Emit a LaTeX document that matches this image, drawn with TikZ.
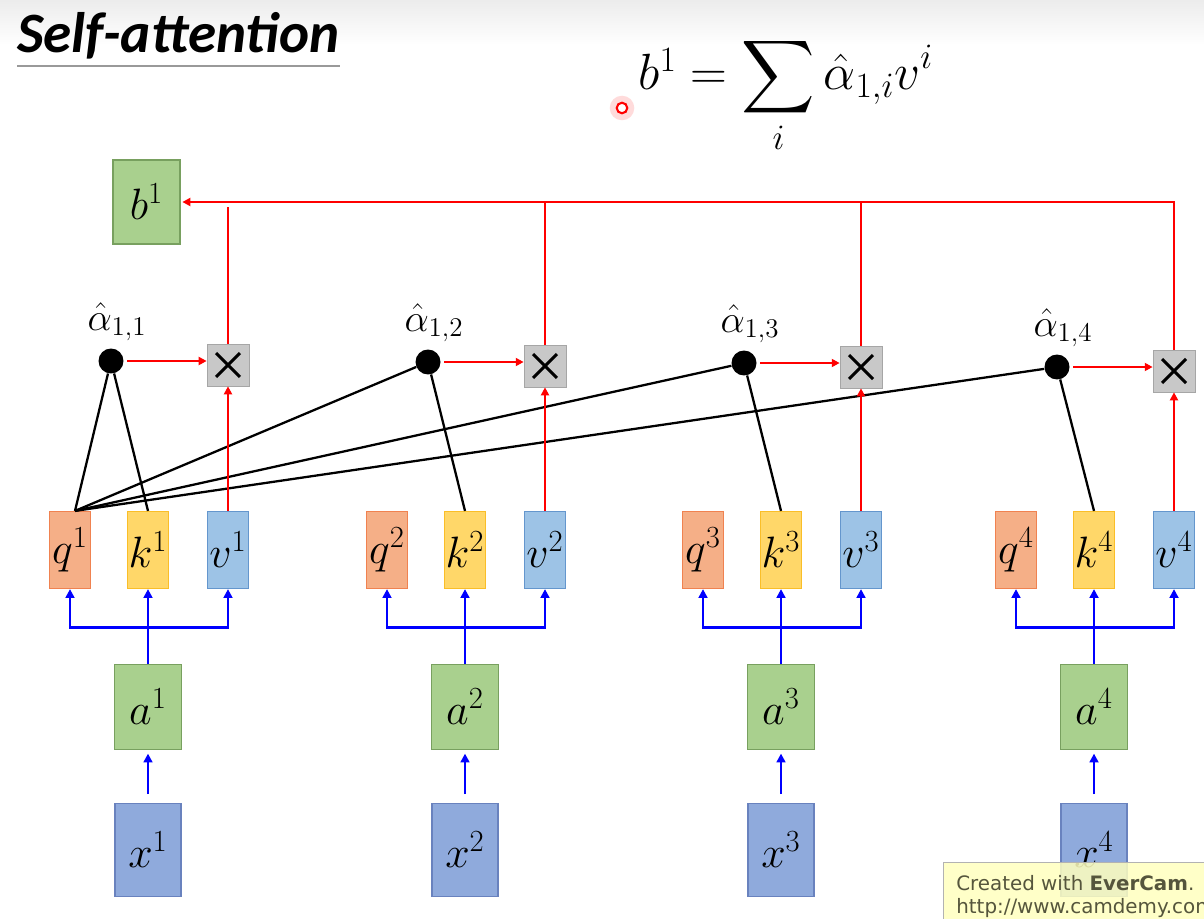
\RequirePackage{fix-cm}
\documentclass[tikz,border=0pt]{standalone}
\usepackage{amsmath}
\usepackage{amssymb}
\usepackage{fontspec}
\newfontfamily\titlefont{Carlito}
\newfontfamily\stampfont{DejaVu Sans}
\usetikzlibrary{arrows.meta,positioning,calc}

\definecolor{greenfill}{RGB}{169,208,142}
\definecolor{greenline}{RGB}{120,160,95}
\definecolor{qfill}{RGB}{245,175,135}
\definecolor{qline}{RGB}{240,130,80}
\definecolor{kfill}{RGB}{255,215,105}
\definecolor{kline}{RGB}{250,190,40}
\definecolor{vfill}{RGB}{157,195,230}
\definecolor{vline}{RGB}{100,150,205}
\definecolor{xfill}{RGB}{143,170,220}
\definecolor{xline}{RGB}{105,130,190}
\definecolor{mulfill}{RGB}{200,200,200}
\definecolor{stampfill}{RGB}{255,255,190}
\definecolor{stamptext}{RGB}{85,85,60}

\begin{document}
\begin{tikzpicture}[x=0.02cm, y=-0.02cm,
		labelbox/.style={draw, line width=0.7pt, inner sep=0pt, font=\fontsize{25}{28}\selectfont},
		qbox/.style={labelbox, fill=qfill, draw=qline, minimum width=0.82cm, minimum height=1.54cm},
		kbox/.style={labelbox, fill=kfill, draw=kline, minimum width=0.82cm, minimum height=1.54cm},
		vbox/.style={labelbox, fill=vfill, draw=vline, minimum width=0.82cm, minimum height=1.54cm},
		abox/.style={labelbox, fill=greenfill, draw=greenline, minimum width=1.34cm, minimum height=1.7cm},
		xbox/.style={labelbox, fill=xfill, draw=xline, minimum width=1.32cm, minimum height=1.86cm},
		mulbox/.style={draw=gray!70, fill=mulfill, minimum size=0.84cm, inner sep=0pt,
			path picture={\draw[black, line width=1.7pt]
				([shift={(9,-9)}]path picture bounding box.south west) -- ([shift={(-9,9)}]path picture bounding box.north east)
				([shift={(9,9)}]path picture bounding box.north west) -- ([shift={(-9,-9)}]path picture bounding box.south east);}},
		alphadot/.style={circle, fill=black, minimum size=0.5cm, inner sep=0pt},
		redarr/.style={red, line width=1.2pt, -{Triangle[length=4.5pt, width=4.5pt]}},
		redline/.style={red, line width=1.2pt},
		bluearr/.style={blue, line width=1.6pt, -{Triangle[length=5pt, width=5pt]}},
		blueline/.style={blue, line width=1.6pt},
		attn/.style={black, line width=1.3pt}]

			\useasboundingbox (0,0) rectangle (1204,919);
			% light band at the top of the slide
			\shade[top color=gray!15, bottom color=white] (0,0) rectangle (1204,45);

			% title and formula
			\node[anchor=base west, inner sep=0pt, font=\titlefont\fontsize{32.5}{36}\selectfont\bfseries\itshape] (title) at (17,53) {Self-attention};
			\draw[gray!80, line width=1.7pt] ($(title.base west)+(0,13)$) -- ($(title.base east)+(0,13)$);
			\node[anchor=base west, inner sep=0pt, font=\fontsize{29}{32}\selectfont] (eq) at (638,90) {$b^1=\displaystyle\sum_i \hat{\alpha}_{1,i}v^i$};

			% pointer mark
			\fill[red!20, opacity=0.7] (622,108) circle (7pt);
			\node[circle, draw=red, fill=white, line width=1.2pt, minimum size=6pt, inner sep=0pt] (cursor) at (622,108) {};

			% output
			\node[abox, minimum height=1.68cm] (b1) at (146.5,202) {$b^1$};

			% one column per input
			\foreach \i/\cx/\dy in {1/70/0, 2/387/1, 3/703/2, 4/1016/6} {
				\node[qbox] (q\i) at (\cx,550) {$q^{\i}$};
				\node[kbox] (k\i) at (\cx+78,550) {$k^{\i}$};
				\node[vbox] (v\i) at (\cx+158,550) {$v^{\i}$};
				\node[abox] (a\i) at (\cx+78,707) {$a^{\i}$};
				\node[xbox] (x\i) at (\cx+78,850) {$x^{\i}$};
				\node[alphadot] (al\i) at (\cx+41,361+\dy) {};
				\node[anchor=base, inner sep=0pt, font=\fontsize{22}{26}\selectfont] (lab\i) at (\cx+47,330+\dy) {$\hat{\alpha}_{1,\i}$};
				\node[mulbox] (m\i) at (\cx+158,365+\dy) {};
			}

			% q1 against every key
			\coordinate (qtop) at ($(q1.north)+(5,0)$);
			\foreach \i in {1,...,4} {
				\draw[attn] (qtop) -- (al\i);
				\draw[attn] (k\i.north) -- (al\i);
			}

			% weights times values
			\foreach \i in {1,...,4} {
				\draw[redarr, shorten <=2pt] (al\i) -- (al\i -| m\i.west);
				\draw[redarr] (v\i.north) -- (m\i.south);
			}

			% sum into b1
			\draw[redarr, shorten >=1pt] (m4.north) |- (b1.east);
			\foreach \i in {2,3}
				\draw[redline] (m\i.north) -- (m\i.north |- b1.east);
			\draw[redline, shorten >=3pt] (m1.north) -- (m1.north |- b1.east);

			% embeddings to q, k, v
			\foreach \i in {1,...,4} {
				\draw[blueline] (a\i.north) -- ++(0,-36) coordinate (f\i);
				\draw[bluearr] (f\i) -| (q\i.south);
				\draw[bluearr] (f\i) -- (k\i.south);
				\draw[bluearr] (f\i) -| (v\i.south);
				\draw[bluearr, shorten <=5pt, shorten >=2pt] (x\i.north) -- (a\i.south);
			}

			% recorder stamp
			\fill[stampfill, opacity=0.85] (943,862) rectangle (1210,925);
			\draw[gray!60] (943,925) |- (1210,862);
			\node[anchor=base west, inner sep=0pt, text=stamptext, font=\stampfont\fontsize{11.3}{13}\selectfont] (stamp1) at (956,890) {Created with \textbf{EverCam}.};
			\node[anchor=base west, inner sep=0pt, text=stamptext, font=\stampfont\fontsize{11.3}{13}\selectfont] (stamp2) at (956,913) {http://www.camdemy.com};

		\end{tikzpicture}
\end{document}
